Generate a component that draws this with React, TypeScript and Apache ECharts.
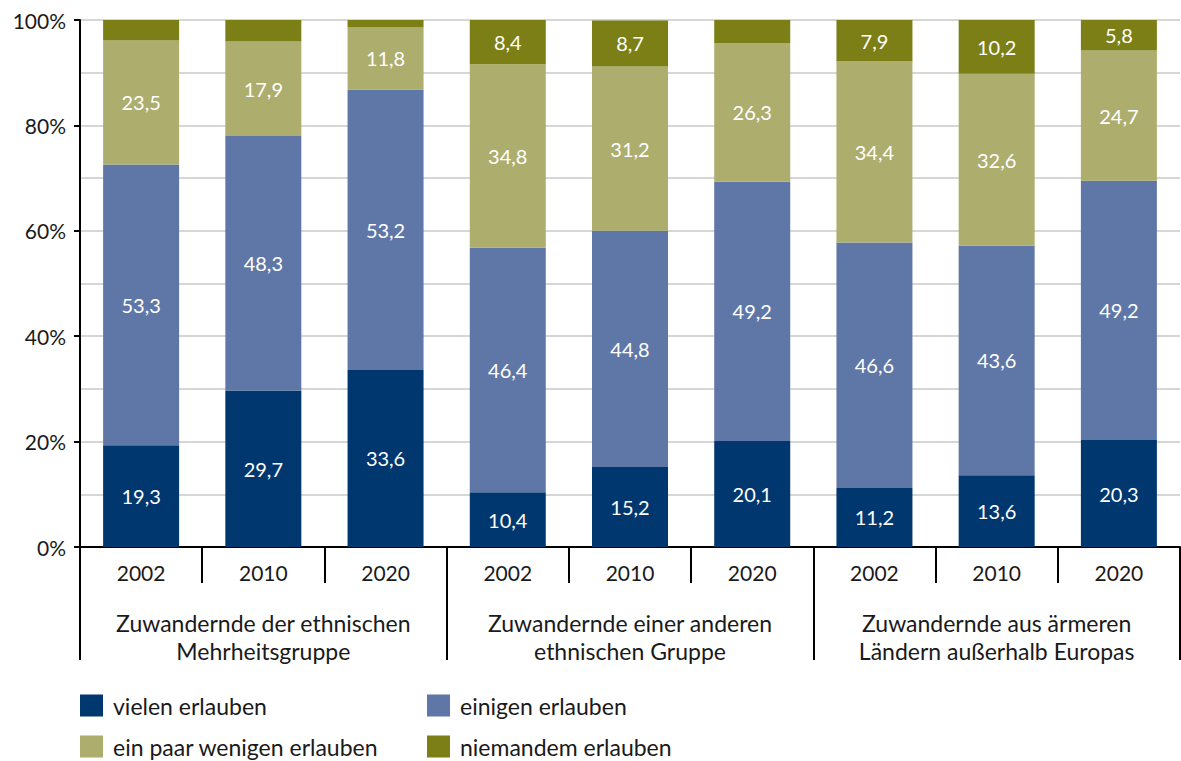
import React, { useEffect, useRef } from 'react';
import * as echarts from 'echarts';

const groups = [
  'Zuwandernde der ethnischen\nMehrheitsgruppe',
  'Zuwandernde einer anderen\nethnischen Gruppe',
  'Zuwandernde aus ärmeren\nLändern außerhalb Europas',
];
const years = ['2002', '2010', '2020', '2002', '2010', '2020', '2002', '2010', '2020'];
const vielen = [19.3, 29.7, 33.6, 10.4, 15.2, 20.1, 11.2, 13.6, 20.3];
const einigen = [53.3, 48.3, 53.2, 46.4, 44.8, 49.2, 46.6, 43.6, 49.2];
const einPaar = [23.5, 17.9, 11.8, 34.8, 31.2, 26.3, 34.4, 32.6, 24.7];
const niemandem = [3.9, 4.1, 1.4, 8.4, 8.7, 4.4, 7.9, 10.2, 5.8];
const seriesNames = ['vielen erlauben', 'einigen erlauben', 'ein paar wenigen erlauben', 'niemandem erlauben'];
const seriesData = [vielen, einigen, einPaar, niemandem];
const colors = ['#00376f', '#5f77a7', '#adad6e', '#7b7f15'];

const FONT = 'Lato';
const TXT = '#1a1a1a';

export default function App() {
  const ref = useRef<HTMLDivElement>(null);
  useEffect(() => {
    if (!ref.current) return;
    const chart = echarts.init(ref.current, null, { renderer: 'svg' });
    const legendPos = [
      { left: 80, top: 694 },
      { left: 427, top: 694 },
      { left: 80, top: 735 },
      { left: 427, top: 735 },
    ];
    chart.setOption({
      animation: false,
      textStyle: { fontFamily: FONT },
      grid: { left: 80, right: 1, top: 20, bottom: 214, containLabel: false },
      legend: seriesNames.map((n, i) => ({
        data: [n],
        left: legendPos[i].left,
        top: legendPos[i].top,
        padding: 0,
        icon: 'rect',
        itemWidth: 23,
        itemHeight: 22,
        textStyle: { fontSize: 23, color: TXT, fontFamily: FONT, padding: [0, 0, 0, 5] },
      })),
      xAxis: [
        {
          type: 'category',
          data: years,
          position: 'bottom',
          axisLine: { show: true, lineStyle: { color: '#000', width: 2 } },
          axisTick: { show: true, length: 36, lineStyle: { color: '#000', width: 2 } },
          axisLabel: { interval: 0, margin: 15, fontSize: 21, color: TXT, fontFamily: FONT },
        },
        {
          type: 'category',
          data: groups,
          position: 'bottom',
          axisLine: { show: false },
          axisTick: { show: true, length: 113, lineStyle: { color: '#000', width: 2 } },
          axisLabel: { interval: 0, margin: 62, fontSize: 23, lineHeight: 28, color: TXT, fontFamily: FONT },
        },
      ],
      yAxis: {
        type: 'value',
        min: 0,
        max: 100,
        interval: 20,
        axisLine: { show: true, lineStyle: { color: '#000', width: 2 } },
        axisTick: { show: true, length: 6, lineStyle: { color: '#000', width: 2 } },
        axisLabel: { formatter: '{value}%', fontSize: 21, color: TXT, margin: 14, fontFamily: FONT },
        splitLine: { show: true, lineStyle: { color: '#c8c8c8', width: 1.5 } },
        minorTick: { show: false, splitNumber: 2 },
        minorSplitLine: { show: true, lineStyle: { color: '#c8c8c8', width: 1.5 } },
      },
      series: seriesNames.map((n, i) => ({
        name: n,
        type: 'bar',
        stack: 'total',
        barWidth: 76,
        xAxisIndex: 0,
        data: seriesData[i],
        itemStyle: { color: colors[i] },
        label: {
          show: true,
          position: 'inside',
          color: '#fff',
          fontSize: 20,
          fontFamily: FONT,
          formatter: (p: any) => (p.value >= 5 ? Number(p.value).toFixed(1).replace('.', ',') : ''),
        },
      })),
    });
    return () => chart.dispose();
  }, []);
  return (
    <div
      ref={ref}
      style={{ position: 'absolute', left: 0, top: 0, width: 1181, height: 761, background: '#fff' }}
    />
  );
}
